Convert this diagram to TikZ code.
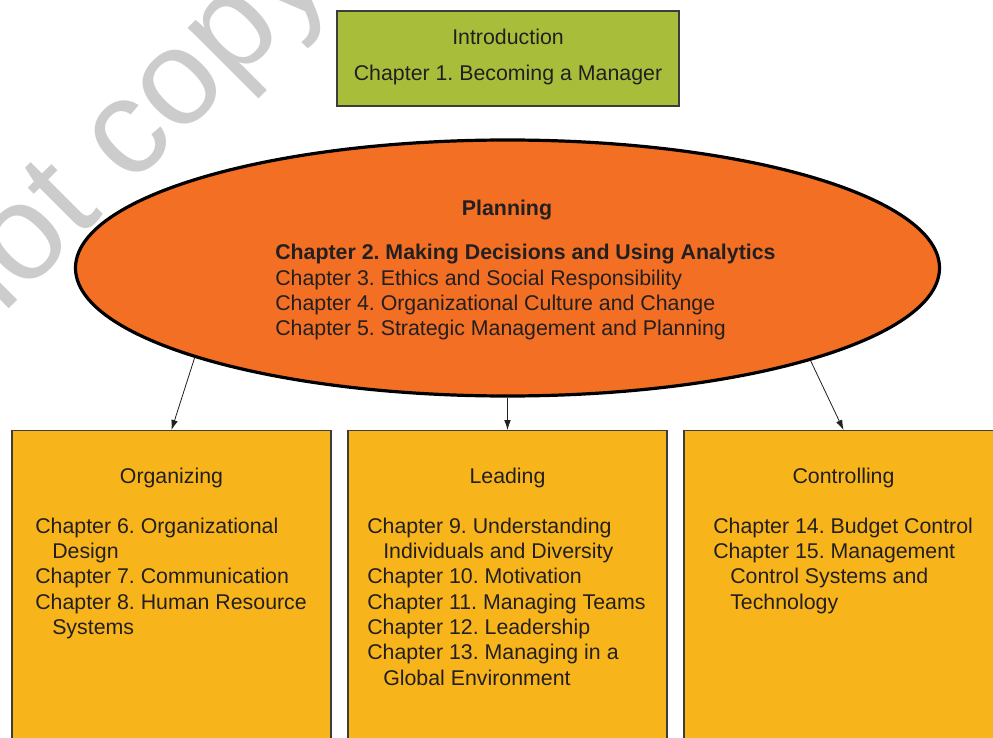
\documentclass[tikz,border=0pt]{standalone}
\usepackage{fontspec}
\setmainfont{Liberation Sans}
\frenchspacing
\usetikzlibrary{shapes.geometric,arrows.meta}
\definecolor{introgreen}{RGB}{168,190,58}
\definecolor{planorange}{RGB}{242,111,36}
\definecolor{boxyellow}{RGB}{248,181,27}
\definecolor{ink}{RGB}{35,31,32}
\definecolor{edgegray}{RGB}{60,60,60}
\begin{document}
\begin{tikzpicture}[x=0.75pt,y=-0.75pt,
  every node/.style={text=ink},
  txt/.style={font=\fontsize{16}{19}\selectfont, inner sep=0pt},
  titletxt/.style={txt, anchor=base},
  blocktxt/.style={txt, anchor=north west, align=left},
  chapbox/.style={draw=edgegray, line width=0.8pt, fill=boxyellow, minimum width=239.25pt, minimum height=247.5pt, anchor=north, inner sep=0pt},
  conn/.style={-{Latex[length=7.5pt,width=5pt]}, line width=0.6pt, draw=ink}
]
\clip (0,0) rectangle (993,738);
\fill[white] (0,0) rectangle (993,738);

% Introduction
\node[draw=edgegray, line width=0.8pt, fill=introgreen, minimum width=256.5pt, minimum height=71.25pt, inner sep=0pt] (intro) at (508,58.5) {};
\node[titletxt] (introT) at (508,44.6) {Introduction};
\node[titletxt] (ch1) at (508,80.6) {Chapter 1. Becoming a Manager};

% Planning
\node[ellipse, draw=black, line width=2.4pt, fill=planorange, minimum width=648pt, minimum height=192pt, inner sep=0pt] (plan) at (507.5,268) {};
\node[titletxt, font=\bfseries\fontsize{16}{19}\selectfont] (planT) at (507,215.6) {Planning};
\node[blocktxt] (planL) at (275,244) {\textbf{Chapter 2. Making Decisions and Using Analytics}\\
Chapter 3. Ethics and Social Responsibility\\
Chapter 4. Organizational Culture and Change\\
Chapter 5. Strategic Management and Planning};

% Boxes
\node[chapbox] (org) at (171.5,430) {};
\node[chapbox] (lead) at (507.5,430) {};
\node[chapbox] (ctrl) at (843.5,430) {};

\node[titletxt] (orgT) at (171.5,483.6) {Organizing};
\node[titletxt] (leadT) at (507.5,483.6) {Leading};
\node[titletxt] (ctrlT) at (843.5,483.6) {Controlling};

\node[blocktxt] (orgL) at (35,517.3) {Chapter 6. Organizational\\
\hspace*{12.75pt}Design\\
Chapter 7. Communication\\
Chapter 8. Human Resource\\
\hspace*{12.75pt}Systems};
\node[blocktxt] (leadL) at (367,517.3) {Chapter 9. Understanding\\
\hspace*{12pt}Individuals and Diversity\\
Chapter 10. Motivation\\
Chapter 11. Managing Teams\\
Chapter 12. Leadership\\
Chapter 13. Managing in a\\
\hspace*{12pt}Global Environment};
\node[blocktxt] (ctrlL) at (713,517.3) {Chapter 14. Budget Control\\
Chapter 15. Management\\
\hspace*{12.75pt}Control Systems and\\
\hspace*{12.75pt}Technology};

% Connectors
\draw[conn] (plan.196.9) -- (org.north);
\draw[conn] (plan.south) -- (lead.north);
\draw[conn] (plan.343.3) -- (ctrl.north);

% Watermark
\node[rotate=45, anchor=base west, inner sep=0pt, text=black, text opacity=0.2, font=\fontsize{102}{102}\selectfont] (wm) at (-30,348) {not copy, post};
\end{tikzpicture}
\end{document}
